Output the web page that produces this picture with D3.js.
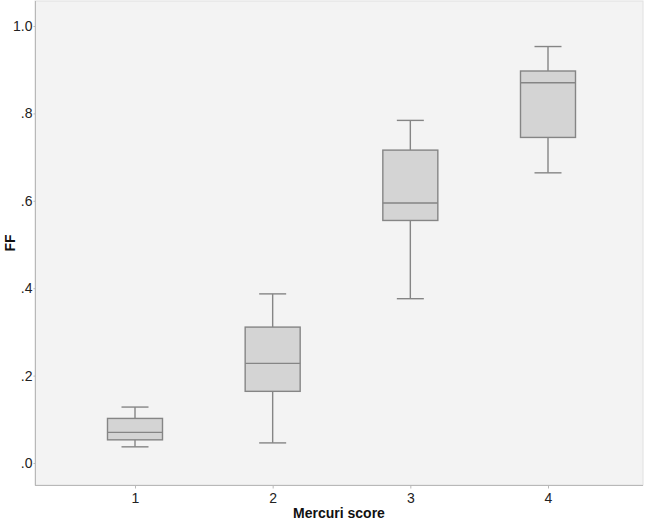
<!DOCTYPE html>
<html>
<head>
<meta charset="utf-8">
<script src="https://cdn.jsdelivr.net/npm/d3@7"></script>
<style>
  html, body { margin: 0; padding: 0; background: #ffffff; }
  svg { display: block; font-family: "Liberation Sans", Arial, sans-serif; }
</style>
</head>
<body>
<svg id="chart" width="649" height="520"></svg>
<script>
// Data
const categories = ["1", "2", "3", "4"];
const whiskerLow  = [0.037, 0.046, 0.376, 0.664];
const q1          = [0.053, 0.164, 0.555, 0.745];
const median      = [0.070, 0.228, 0.595, 0.870];
const q3          = [0.102, 0.311, 0.716, 0.897];
const whiskerHigh = [0.128, 0.387, 0.784, 0.953];
const yTicks = [0, 0.2, 0.4, 0.6, 0.8, 1.0];
const yTickLabels = [".0", ".2", ".4", ".6", ".8", "1.0"];
const xTitle = "Mercuri score";
const yTitle = "FF";

const boxes = categories.map((c, i) => ({
  cat: c, lo: whiskerLow[i], q1: q1[i], med: median[i], q3: q3[i], hi: whiskerHigh[i]
}));

const svg = d3.select("#chart");
const plot = { left: 35, right: 643, top: 1, bottom: 485 };

const x = d3.scalePoint().domain(categories).range([135, 548]);
const y = d3.scaleLinear().domain([0, 1]).range([463, 26]);

const boxW = 55, capW = 27;
const strokeCol = "#858585";

// plot background
svg.append("rect")
  .attr("x", plot.left).attr("y", plot.top)
  .attr("width", plot.right - plot.left).attr("height", plot.bottom - plot.top)
  .attr("fill", "#f3f3f3").attr("stroke", "#e0e0e0").attr("stroke-width", 1);

// axes lines
svg.append("line").attr("x1", plot.left + 0.5).attr("x2", plot.left + 0.5)
  .attr("y1", plot.top).attr("y2", plot.bottom).attr("stroke", "#b8b8b8");
svg.append("line").attr("x1", plot.left).attr("x2", plot.right)
  .attr("y1", plot.bottom + 0.5).attr("y2", plot.bottom + 0.5).attr("stroke", "#b8b8b8");

// y axis
const yAxis = d3.axisLeft(y).tickValues(yTicks)
  .tickFormat((d, i) => yTickLabels[i]).tickSize(2).tickPadding(1);
const gy = svg.append("g").attr("transform", `translate(${plot.left + 0.5},0)`).call(yAxis);
gy.select(".domain").remove();
gy.selectAll(".tick line").attr("stroke", "#b8b8b8");
gy.selectAll(".tick text").attr("fill", "#222").style("font-size", "14px")
  .style("font-family", "Liberation Sans, Arial, sans-serif");

// x axis
const xAxis = d3.axisBottom(x).tickSize(3).tickPadding(5);
const gx = svg.append("g").attr("transform", `translate(0,${plot.bottom + 0.5})`).call(xAxis);
gx.select(".domain").remove();
gx.selectAll(".tick line").attr("stroke", "#b8b8b8");
gx.selectAll(".tick text").attr("fill", "#222").style("font-size", "14px")
  .style("font-family", "Liberation Sans, Arial, sans-serif");

// boxes
const g = svg.append("g").selectAll("g").data(boxes).join("g");
// whiskers
g.append("line")
  .attr("x1", d => x(d.cat)).attr("x2", d => x(d.cat))
  .attr("y1", d => y(d.hi)).attr("y2", d => y(d.q3))
  .attr("stroke", strokeCol).attr("stroke-width", 1.4);
g.append("line")
  .attr("x1", d => x(d.cat)).attr("x2", d => x(d.cat))
  .attr("y1", d => y(d.q1)).attr("y2", d => y(d.lo))
  .attr("stroke", strokeCol).attr("stroke-width", 1.4);
// caps
g.append("line")
  .attr("x1", d => x(d.cat) - capW / 2).attr("x2", d => x(d.cat) + capW / 2)
  .attr("y1", d => y(d.hi)).attr("y2", d => y(d.hi))
  .attr("stroke", strokeCol).attr("stroke-width", 1.4);
g.append("line")
  .attr("x1", d => x(d.cat) - capW / 2).attr("x2", d => x(d.cat) + capW / 2)
  .attr("y1", d => y(d.lo)).attr("y2", d => y(d.lo))
  .attr("stroke", strokeCol).attr("stroke-width", 1.4);
// box
g.append("rect")
  .attr("x", d => x(d.cat) - boxW / 2).attr("width", boxW)
  .attr("y", d => y(d.q3)).attr("height", d => y(d.q1) - y(d.q3))
  .attr("fill", "#d4d4d4").attr("stroke", strokeCol).attr("stroke-width", 1.4);
// median
g.append("line")
  .attr("x1", d => x(d.cat) - boxW / 2).attr("x2", d => x(d.cat) + boxW / 2)
  .attr("y1", d => y(d.med)).attr("y2", d => y(d.med))
  .attr("stroke", strokeCol).attr("stroke-width", 1.4);

// titles
svg.append("text")
  .attr("x", (plot.left + plot.right) / 2).attr("y", 518)
  .attr("text-anchor", "middle")
  .style("font-size", "14px").style("font-weight", "bold").attr("fill", "#111")
  .text(xTitle);
svg.append("text")
  .attr("transform", `translate(15,${(plot.top + plot.bottom) / 2}) rotate(-90)`)
  .attr("text-anchor", "middle")
  .style("font-size", "14px").style("font-weight", "bold").attr("fill", "#111")
  .text(yTitle);
</script>
</body>
</html>
